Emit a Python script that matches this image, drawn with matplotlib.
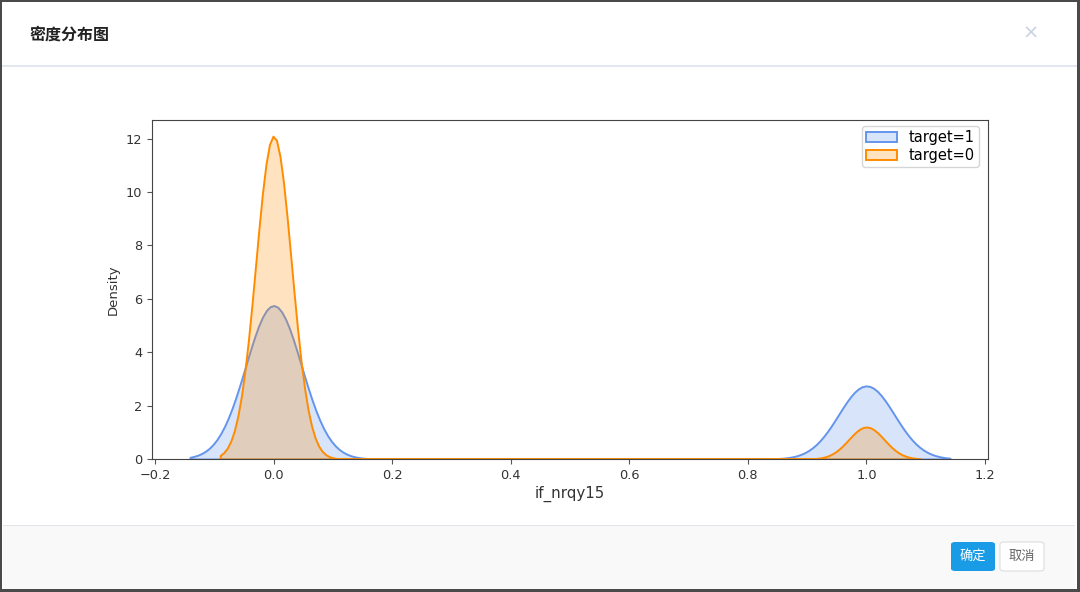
import numpy as np
import pandas as pd
import matplotlib
matplotlib.use("Agg")
import matplotlib.pyplot as plt
from matplotlib.patches import Rectangle, FancyBboxPatch
import seaborn as sns

plt.rcParams['font.family'] = ['DejaVu Sans', 'Noto Sans CJK SC']

# counts of feature value (0 / 1) per target group
feature = "if_nrqy15"
values = [0, 1]
counts_t1 = [66040, 31460]
counts_t0 = [72330, 7170]
labels = ["target=1", "target=0"]
colors = ["cornflowerblue", "darkorange"]

W, H = 1080, 592
fig = plt.figure(figsize=(W / 100, H / 100), dpi=100)
fig.patch.set_facecolor("#4a4a4a")

def px(x, y):
    return x / W, 1 - y / H

def box(x0, y0, x1, y1, **kw):
    (a, b), (c, d) = px(x0, y1), px(x1, y0)
    fig.add_artist(Rectangle((a, b), c - a, d - b, transform=fig.transFigure,
                             zorder=-10, **kw))

# dialog chrome
box(2, 2, 1077, 589, facecolor="white", edgecolor="none")
box(2, 65.5, 1077, 66.5, facecolor="#e2e6ee", edgecolor="none")
box(3, 525, 1075, 589, facecolor="#f9f9f9", edgecolor="none")
box(3, 524.5, 1075, 525.5, facecolor="#e3e3ea", edgecolor="none")
fig.text(*px(30, 35), "密度分布图", family=['Noto Sans CJK SC'], fontsize=11.5,
         fontweight="bold", color="#222222", va="center", ha="left")
fig.text(*px(1031, 33), "×", fontsize=14, color="#c9d1e0", va="center", ha="center")

a, b = px(951, 571)
c, d = px(995, 542)
fig.add_artist(FancyBboxPatch((a, b), c - a, d - b, boxstyle="round,pad=0,rounding_size=0.004",
                              transform=fig.transFigure, facecolor="#1a9be6", edgecolor="none",
                              zorder=-5))
fig.text((a + c) / 2, (b + d) / 2, "确定", family=['Noto Sans CJK SC'], fontsize=9.5,
         color="white", va="center", ha="center")
a, b = px(1000, 571)
c, d = px(1044, 542)
fig.add_artist(FancyBboxPatch((a, b), c - a, d - b, boxstyle="round,pad=0,rounding_size=0.004",
                              transform=fig.transFigure, facecolor="white", edgecolor="#dddddd",
                              lw=0.8, zorder=-5))
fig.text((a + c) / 2, (b + d) / 2, "取消", family=['Noto Sans CJK SC'], fontsize=9.5,
         color="#666666", va="center", ha="center")

# chart
l, t = px(152, 120)
r, btm = px(988, 459)
ax = fig.add_axes([l, btm, r - l, t - btm])

d1 = pd.Series(np.repeat(values, counts_t1), name=feature)
d0 = pd.Series(np.repeat(values, counts_t0), name=feature)
sns.kdeplot(d1, fill=True, color=colors[0], label=labels[0], ax=ax, linewidth=1.4)
sns.kdeplot(d0, fill=True, color=colors[1], label=labels[1], ax=ax, linewidth=1.4)

ax.set_xlabel(feature, fontsize=10.8, color="#333333", labelpad=3)
ax.set_ylabel("Density", fontsize=9.5, color="#333333")
ax.tick_params(labelsize=9.3, colors="#333333")
ax.tick_params(color="#555555")
for s in ax.spines.values():
    s.set_color("#444444")
ax.legend(loc="upper right", fontsize=10.5, bbox_to_anchor=(0.989, 0.982),
          borderaxespad=0, labelspacing=0.2, borderpad=0.28, handlelength=2.1)

fig.savefig("out.png", dpi=100, facecolor=fig.get_facecolor())
